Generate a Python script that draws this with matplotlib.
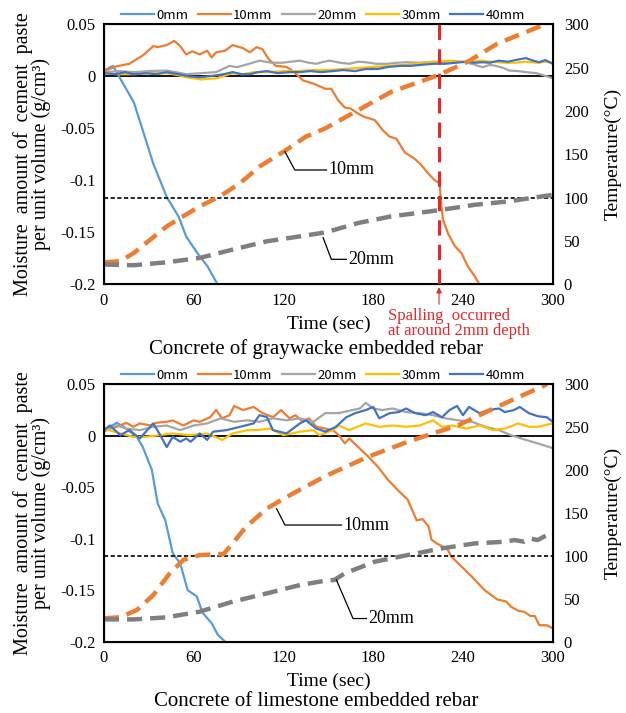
import matplotlib.pyplot as plt
import numpy as np

plt.rcParams['font.family'] = ['Liberation Serif', 'DejaVu Serif']

depths = ['0mm', '10mm', '20mm', '30mm', '40mm']
colors = ['#5B9BD5', '#ED7D31', '#A5A5A5', '#FFC000', '#4472C4']

# ---- graywacke: moisture (g/cm3) ----
gw_t0 = [0, 6, 10, 20, 26, 33, 42, 50, 55, 64, 69, 76]
gw_m0 = [0.0055, 0.010, 0.0, -0.025, -0.052, -0.084, -0.116, -0.135, -0.154, -0.173, -0.182, -0.2]

gw_t10 = [0, 8.5, 17, 26, 33, 36, 42, 47, 51, 55, 59, 64, 69, 72, 75, 81, 86, 93, 97.5, 102, 106,
          110, 115, 122, 126.5, 133, 140, 148, 152, 156.5, 161, 165, 170, 174, 181, 186.5, 191,
          195.5, 201, 207.5, 212, 216.5, 221, 224.4, 225.6, 226.7, 230, 234.5, 239, 243.4, 247.8,
          251, 257]
gw_m10 = [0.005, 0.0096, 0.012, 0.020, 0.029, 0.028, 0.030, 0.034, 0.029, 0.021, 0.024, 0.021,
          0.0246, 0.018, 0.023, 0.0246, 0.030, 0.027, 0.023, 0.028, 0.026, 0.0166, 0.010, 0.009,
          0.005, -0.004, -0.007, -0.012, -0.012, -0.023, -0.030, -0.031, -0.036, -0.039, -0.042,
          -0.052, -0.058, -0.060, -0.073, -0.079, -0.085, -0.093, -0.0997, -0.103, -0.125, -0.138,
          -0.151, -0.163, -0.170, -0.183, -0.192, -0.2, -0.2]

gw_t20 = [0, 10, 20, 30, 42, 48, 55, 65, 75, 84, 89, 97, 104, 112, 119, 125, 131, 137, 142, 147,
          151, 158, 164, 170, 175, 182, 189, 196, 202, 210, 220, 226, 233, 238, 242, 248, 253,
          258, 262, 267, 271, 277, 282, 289, 296, 300]
gw_m20 = [0.004, 0.005, 0.004, 0.005, 0.0055, 0.004, 0.002, 0.003, 0.004, 0.010, 0.0087, 0.012,
          0.015, 0.013, 0.013, 0.014, 0.015, 0.013, 0.012, 0.014, 0.015, 0.013, 0.012, 0.014,
          0.0135, 0.012, 0.012, 0.013, 0.0135, 0.013, 0.014, 0.013, 0.015, 0.014, 0.0135, 0.011,
          0.0087, 0.011, 0.010, 0.008, 0.0055, 0.005, 0.004, 0.003, 0.0, -0.002]

gw_t30 = [0, 10, 20, 30, 42, 50, 55, 60, 65, 75, 86, 93, 100, 110, 120, 130, 140, 150, 160, 170,
          180, 190, 200, 208, 215, 222, 230, 238, 245, 252, 260, 268, 275, 282, 290, 295, 300]
gw_m30 = [0.003, 0.002, 0.002, 0.003, 0.003, 0.001, -0.001, -0.002, -0.003, -0.002, 0.003, 0.002,
          0.004, 0.004, 0.005, 0.005, 0.006, 0.006, 0.007, 0.008, 0.009, 0.010, 0.011, 0.012,
          0.013, 0.014, 0.015, 0.014, 0.014, 0.015, 0.014, 0.013, 0.013, 0.014, 0.013, 0.014, 0.013]

gw_t40 = [0, 8, 14, 20, 28, 35, 42, 50, 57, 64, 73, 80, 86, 92, 97.5, 103, 109, 116, 124, 131,
          138, 145, 153, 160, 168, 175, 183, 190, 198, 205, 212, 220, 228, 235, 242, 248, 253,
          258, 264, 270, 275, 282, 287, 291, 295, 300]
gw_m40 = [0.003, 0.002, 0.004, 0.002, 0.003, 0.002, 0.004, 0.002, 0.0, -0.001, 0.0005, 0.002,
          0.004, 0.002, 0.002, 0.004, 0.005, 0.003, 0.004, 0.004, 0.005, 0.004, 0.005, 0.006,
          0.005, 0.007, 0.007, 0.009, 0.010, 0.010, 0.011, 0.012, 0.012, 0.013, 0.014, 0.013,
          0.0135, 0.013, 0.015, 0.014, 0.0156, 0.0175, 0.015, 0.0135, 0.0156, 0.012]

# ---- graywacke: temperature (C) ----
gw_tT10 = [0, 11, 20, 31, 42, 51, 64, 77.5, 91, 104, 120, 135, 148, 170, 192, 223, 243, 263, 295]
gw_T10 = [25.6, 26.8, 36.4, 51.7, 67, 76.6, 90, 101.5, 116.8, 136, 153, 170.4, 180, 201, 222,
          241, 256.6, 277.7, 300]
gw_tT20 = [0, 20, 42, 64, 86, 109, 131, 148, 170, 192, 223, 248, 270, 300]
gw_T20 = [23, 22.2, 25.6, 30.6, 40.2, 49.8, 55.5, 60, 70.9, 78.5, 85.4, 91.9, 95.7, 103.4]

# ---- limestone: moisture (g/cm3) ----
ls_t0 = [0, 8.5, 13, 22, 26, 32, 36, 41, 46, 51, 56, 62, 66, 72, 76, 81]
ls_m0 = [0.0055, 0.0126, 0.009, -0.001, -0.011, -0.033, -0.066, -0.082, -0.114, -0.124, -0.15,
         -0.156, -0.172, -0.182, -0.193, -0.2]

ls_t10 = [0, 8.5, 15, 19.6, 24, 31, 35, 42, 46, 53, 60, 64, 71, 75, 79, 84, 87, 93, 100, 106,
          113, 118.5, 124, 128, 133, 137, 142, 148, 153, 157, 161, 164, 170, 176.5, 183, 190,
          196.6, 203, 209, 213, 217, 219, 223, 227, 230, 232, 239, 246, 254.5, 263, 269, 272,
          277, 281, 285, 288, 291, 296, 300]
ls_m10 = [0.0055, 0.0087, 0.0126, 0.0087, 0.012, 0.010, 0.0126, 0.0136, 0.015, 0.010, 0.015,
          0.0136, 0.018, 0.025, 0.017, 0.020, 0.029, 0.025, 0.028, 0.022, 0.018, 0.025, 0.017,
          0.020, 0.0136, 0.017, 0.0087, 0.007, 0.0055, 0.0006, -0.0074, -0.0026, -0.011, -0.020,
          -0.030, -0.043, -0.053, -0.062, -0.082, -0.081, -0.088, -0.101, -0.105, -0.108, -0.111,
          -0.117, -0.127, -0.137, -0.150, -0.159, -0.161, -0.166, -0.170, -0.171, -0.175, -0.175,
          -0.184, -0.184, -0.187]

ls_t20 = [0, 8.5, 15, 24, 33, 42, 51, 60, 69, 78, 87, 96, 104, 113, 122, 131, 140, 148, 157,
          166, 171, 175, 180, 186, 193, 202, 211, 220, 228, 237, 246, 255, 264, 272, 282, 290, 300]
ls_m20 = [0.004, 0.010, 0.007, 0.0055, 0.0087, 0.010, 0.0055, 0.010, 0.012, 0.017, 0.0136,
          0.015, 0.0136, 0.017, 0.015, 0.017, 0.0136, 0.022, 0.022, 0.025, 0.0265, 0.032, 0.0265,
          0.025, 0.0265, 0.023, 0.022, 0.020, 0.017, 0.015, 0.0136, 0.0087, 0.0055, 0.0006,
          -0.004, -0.0074, -0.012]

ls_t30 = [0, 11, 19.6, 28, 37, 46, 57, 69, 79, 86, 96, 102, 111, 120, 131, 140, 144, 153, 157,
          164, 175, 184, 193, 202, 211, 220, 226, 233, 242, 251, 260, 268, 277, 284, 290, 300]
ls_m30 = [0.007, 0.0023, -0.001, -0.001, 0.0006, 0.0023, 0.0006, 0.0023, -0.004, 0.0023,
          0.0055, 0.0055, 0.007, 0.0006, 0.004, 0.0055, 0.0006, 0.0055, 0.010, 0.0055, 0.012,
          0.0087, 0.010, 0.0087, 0.010, 0.015, 0.0087, 0.010, 0.007, 0.010, 0.0055, 0.007, 0.012,
          0.0087, 0.0087, 0.012]

ls_t40 = [0, 4, 11, 17, 24, 33, 37, 42, 46, 51, 55, 58, 64, 69, 73, 82, 91, 100, 104, 109, 113,
          122, 131, 135, 142, 148, 155, 162, 168, 175, 180, 184, 191, 197, 202, 208, 215, 220,
          226, 231, 236, 240, 244, 251, 257, 264, 268, 274, 278, 284, 290, 296, 300]
ls_m40 = [0.0055, 0.010, 0.0006, 0.0055, -0.0026, 0.012, 0.0023, -0.011, -0.001, -0.0058,
          -0.0026, -0.0058, 0.0023, -0.004, 0.004, 0.0055, 0.0087, 0.012, 0.020, 0.018, 0.0055,
          0.0023, 0.012, 0.015, 0.007, 0.004, 0.0087, 0.018, 0.022, 0.025, 0.028, 0.017, 0.022,
          0.023, 0.0265, 0.022, 0.020, 0.023, 0.018, 0.025, 0.029, 0.020, 0.028, 0.022, 0.025,
          0.0265, 0.023, 0.025, 0.028, 0.022, 0.019, 0.018, 0.0136]

# ---- limestone: temperature (C) ----
ls_tT10 = [0, 11, 22, 33, 44, 53, 64, 80, 86, 95, 109, 126.5, 148, 176.5, 203, 237, 263, 296]
ls_T10 = [27.3, 28.5, 36.9, 54.4, 79.7, 95.2, 101, 102.2, 114.6, 134, 155.4, 172.9, 193, 215.5,
          233, 252.5, 273.8, 300]
ls_tT20 = [0, 20, 42, 64, 86, 109, 131, 148, 154, 161, 181, 203, 226, 248, 268, 274.5, 281,
           285.5, 290, 300]
ls_T20 = [26, 26, 28.4, 35, 46.6, 56.4, 66, 71.1, 71.9, 79.7, 93.2, 101, 108.8, 114.6, 116.5,
          118.5, 116.5, 120, 118.5, 128]

spall_t = 224

fig = plt.figure(figsize=(6.26, 7.13), dpi=100)


def panel(rect, moist, temp, title, title_y, leaders):
    ax = fig.add_axes(rect)
    for (t, m), c, lab in zip(moist, colors, depths):
        ax.plot(t, m, color=c, lw=1.6, label=lab)
    ax.axhline(0, color='black', lw=1.3, zorder=1)
    ax.set_xlim(0, 300)
    ax.set_ylim(-0.2, 0.05)
    ax.set_xticks(np.arange(0, 301, 60))
    ax.set_yticks([0.05, 0, -0.05, -0.1, -0.15, -0.2])
    ax.set_yticklabels(['0.05', '0', '-0.05', '-0.1', '-0.15', '-0.2'])
    ax.tick_params(length=0, labelsize=12, pad=6)
    for s in ax.spines.values():
        s.set_linewidth(1.5)
    ax.set_xlabel('Time (sec)', fontsize=14, labelpad=5)
    ax.set_ylabel('Moisture  amount of  cement  paste\nper unit volume (g/cm\u00b3)',
                  fontsize=14.5, linespacing=0.9, labelpad=7)

    ax2 = ax.twinx()
    ax2.set_ylim(0, 300)
    ax2.set_yticks(np.arange(0, 301, 50))
    ax2.tick_params(length=0, labelsize=12, pad=8)
    ax2.set_ylabel('Temperature(\u00b0C)', fontsize=14, labelpad=11)
    ax2.axhline(100, color='black', lw=1.2, ls=(0, (2.5, 1.5)))
    (t10, T10), (t20, T20) = temp
    ax2.plot(t10, T10, color='#ED7D31', lw=3.2, ls=(0, (3.4, 1.8)))
    ax2.plot(t20, T20, color='#7F7F7F', lw=3.2, ls=(0, (3.4, 1.8)))

    for (p0, p1, p2, txt) in leaders:
        ax2.plot([p0[0], p1[0], p2[0]], [p0[1], p1[1], p2[1]], color='black', lw=0.9)
        ax2.text(p2[0] + 1.5, p2[1], txt, fontsize=13, va='center', ha='left')

    ax.legend(ncol=5, loc='lower center', bbox_to_anchor=(0.488, 0.99), frameon=False,
              prop={'family': 'Noto Sans CJK JP', 'size': 9.5},
              handlelength=2.5, columnspacing=0.7, handletextpad=0.2, borderaxespad=0)
    fig.text(0.505, title_y, title, ha='center', va='center', fontsize=15)
    return ax, ax2


ax_a, ax_a2 = panel([0.166, 0.601, 0.717, 0.365],
                    [(gw_t0, gw_m0), (gw_t10, gw_m10), (gw_t20, gw_m20),
                     (gw_t30, gw_m30), (gw_t40, gw_m40)],
                    [(gw_tT10, gw_T10), (gw_tT20, gw_T20)],
                    'Concrete of graywacke embedded rebar', 0.511,
                    [((121, 153), (127.6, 132), (148.8, 132), '10mm'),
                     ((146.5, 54), (152, 29), (162, 29), '20mm')])

# spalling marker
ax_a2.axvline(spall_t, color='#E8262B', lw=2.2, ls=(0, (5, 3)), zorder=5)
ax_a2.annotate('', xy=(spall_t, 0), xytext=(spall_t, -26),
               arrowprops=dict(arrowstyle='-|>', color='#E8262B', lw=0.8,
                               mutation_scale=8), annotation_clip=False)
ax_a2.text(190, -27, 'Spalling  occurred\nat around 2mm depth', color='#E8262B',
           fontsize=12, ha='left', va='top', linespacing=0.95, clip_on=False)

panel([0.166, 0.1, 0.717, 0.361],
      [(ls_t0, ls_m0), (ls_t10, ls_m10), (ls_t20, ls_m20),
       (ls_t30, ls_m30), (ls_t40, ls_m40)],
      [(ls_tT10, ls_T10), (ls_tT20, ls_T20)],
      'Concrete of limestone embedded rebar', 0.016,
      [((115.4, 155), (121, 136), (158.8, 136), '10mm'),
       ((155.4, 72), (166.5, 27), (175.5, 27), '20mm')])

fig.savefig('out.png', dpi=100)
